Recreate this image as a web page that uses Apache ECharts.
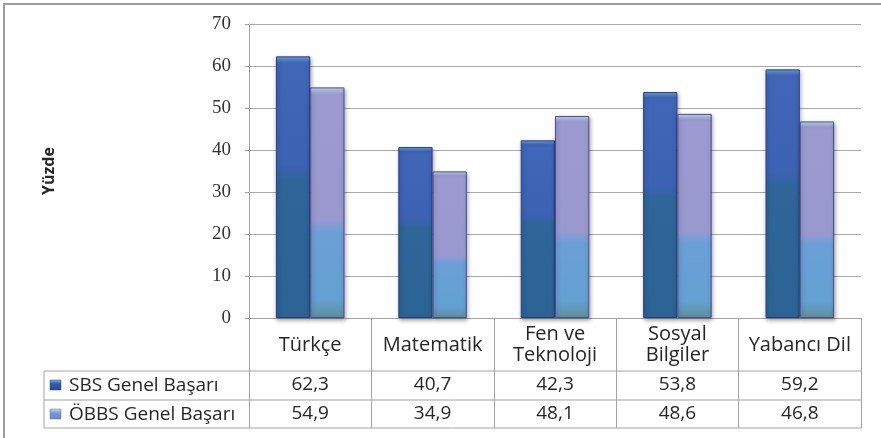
<!DOCTYPE html>
<html>
<head>
<meta charset="utf-8">
<script src="https://cdn.jsdelivr.net/npm/echarts@6/dist/echarts.min.js"></script>
<style>
html,body{margin:0;padding:0;background:#fff;}
#main{width:881px;height:438px;}
</style>
</head>
<body>
<div id="main"></div>
<script>
const categories = ['Türkçe', 'Matematik', 'Fen ve\nTeknoloji', 'Sosyal\nBilgiler', 'Yabancı Dil'];
const seriesNames = ['SBS Genel Başarı', 'ÖBBS Genel Başarı'];
const sbsValues = [62.3, 40.7, 42.3, 53.8, 59.2];
const obbsValues = [54.9, 34.9, 48.1, 48.6, 46.8];
const yAxisName = 'Yüzde';
const yMin = 0, yMax = 70, yInterval = 10;

const fmt = v => v.toFixed(1).replace('.', ',');
const SANS = '"Open Sans", "Noto Sans", sans-serif';

const sbsGrad = new echarts.graphic.LinearGradient(0, 0, 0, 1, [
  {offset: 0, color: '#6fa8e0'},
  {offset: 0.025, color: '#4066b8'},
  {offset: 0.42, color: '#3c62b3'},
  {offset: 0.47, color: '#2f6599'},
  {offset: 1, color: '#2b6494'}
]);
const obbsGrad = new echarts.graphic.LinearGradient(0, 0, 0, 1, [
  {offset: 0, color: '#c4dcf4'},
  {offset: 0.03, color: '#9c9ad0'},
  {offset: 0.57, color: '#9a99cf'},
  {offset: 0.63, color: '#6aa0d6'},
  {offset: 0.92, color: '#64a0d2'},
  {offset: 1, color: '#5d8f98'}
]);
const sbsIcon = new echarts.graphic.LinearGradient(0, 0, 0, 1, [
  {offset: 0, color: '#7fb2e6'}, {offset: 0.4, color: '#3357a8'}, {offset: 1, color: '#2a4c98'}
]);
const obbsIcon = new echarts.graphic.LinearGradient(0, 0, 0, 1, [
  {offset: 0, color: '#c9dcf5'}, {offset: 0.4, color: '#7c97d6'}, {offset: 1, color: '#6a86c8'}
]);

const lineStyle = {stroke: '#a3a3a3', lineWidth: 1};
const chart = echarts.init(document.getElementById('main'), null, {renderer: 'canvas'});

const option = {
  animation: false,
  backgroundColor: '#ffffff',
  grid: {left: 249, right: 20, top: 24, bottom: 120},
  xAxis: [
    {
      type: 'category', data: categories, position: 'bottom',
      axisLine: {show: true, lineStyle: {color: '#a3a3a3'}},
      axisTick: {show: true, length: 110, interval: 0, lineStyle: {color: '#a3a3a3'}},
      axisLabel: {interval: 0, margin: 27, verticalAlign: 'middle', fontFamily: SANS, fontSize: 20, lineHeight: 21, color: '#262626'}
    },
    {
      type: 'category', data: sbsValues.map(fmt), position: 'bottom',
      axisLine: {show: false}, axisTick: {show: false},
      axisLabel: {interval: 0, margin: 67, verticalAlign: 'middle', fontFamily: SANS, fontSize: 19, color: '#262626'}
    },
    {
      type: 'category', data: obbsValues.map(fmt), position: 'bottom',
      axisLine: {show: false}, axisTick: {show: false},
      axisLabel: {interval: 0, margin: 96, verticalAlign: 'middle', fontFamily: SANS, fontSize: 19, color: '#262626'}
    }
  ],
  yAxis: {
    type: 'value', min: yMin, max: yMax, interval: yInterval,
    name: yAxisName, nameLocation: 'middle', nameRotate: 90, nameGap: 192,
    nameTextStyle: {fontFamily: SANS, fontSize: 16, fontWeight: 'bold', color: '#262626'},
    axisLine: {show: true, lineStyle: {color: '#a3a3a3'}},
    axisTick: {show: true, length: 4, lineStyle: {color: '#a3a3a3'}},
    axisLabel: {margin: 18, fontFamily: '"Liberation Serif", "DejaVu Serif", serif', fontSize: 19, color: '#333'},
    splitLine: {show: true, lineStyle: {color: '#a8a8a8'}}
  },
  series: [
    {
      name: seriesNames[0], type: 'bar', data: sbsValues, xAxisIndex: 0,
      barGap: '0%', barCategoryGap: '44%',
      itemStyle: {color: sbsGrad, borderColor: '#2c3d86', borderWidth: 1,
        shadowColor: 'rgba(0,0,0,0.35)', shadowBlur: 4, shadowOffsetX: 1, shadowOffsetY: 2}
    },
    {
      name: seriesNames[1], type: 'bar', data: obbsValues, xAxisIndex: 0,
      itemStyle: {color: obbsGrad, borderColor: '#4a4c96', borderWidth: 1,
        shadowColor: 'rgba(0,0,0,0.35)', shadowBlur: 4, shadowOffsetX: 1, shadowOffsetY: 2}
    }
  ],
  graphic: [
    {type: 'rect', z: 100, silent: true, shape: {x: 4, y: 4, width: 900, height: 460},
      style: {fill: 'none', stroke: '#9d9d9d', lineWidth: 2}},
    {type: 'line', z: 100, shape: {x1: 44, y1: 371, x2: 861, y2: 371}, style: lineStyle},
    {type: 'line', z: 100, shape: {x1: 44, y1: 400, x2: 861, y2: 400}, style: lineStyle},
    {type: 'line', z: 100, shape: {x1: 44, y1: 428, x2: 861, y2: 428}, style: lineStyle},
    {type: 'line', z: 100, shape: {x1: 44, y1: 371, x2: 44, y2: 428}, style: lineStyle},
    {type: 'rect', z: 100, shape: {x: 50, y: 380, width: 11, height: 10}, style: {fill: sbsIcon, stroke: '#25408a', lineWidth: 0.5}},
    {type: 'rect', z: 100, shape: {x: 50, y: 409, width: 11, height: 10}, style: {fill: obbsIcon, stroke: '#5a72b8', lineWidth: 0.5}},
    {type: 'text', z: 100, x: 69, y: 385.5, style: {text: seriesNames[0], font: '19px ' + SANS, fill: '#262626', verticalAlign: 'middle'}},
    {type: 'text', z: 100, x: 69, y: 414.5, style: {text: seriesNames[1], font: '19px ' + SANS, fill: '#262626', verticalAlign: 'middle'}}
  ]
};
chart.setOption(option);
</script>
</body>
</html>
